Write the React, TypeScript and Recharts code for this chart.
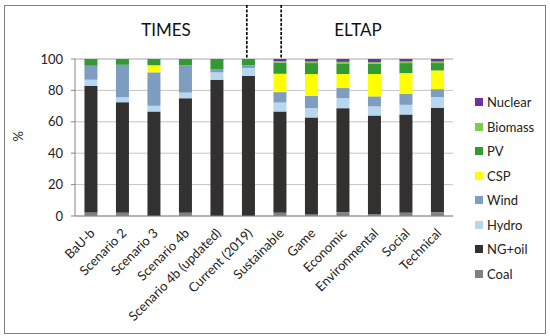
import { BarChart, Bar, XAxis, YAxis, CartesianGrid, Legend, ReferenceLine } from 'recharts';

const categories = [
  'BaU-b', 'Scenario 2', 'Scenario 3', 'Scenario 4b', 'Scenario 4b (updated)', 'Current (2019)',
  'Sustainable', 'Game', 'Economic', 'Environmental', 'Social', 'Technical',
];

const coal = [2.3, 2, 0, 2, 0, 0, 2, 1, 2.5, 1.3, 2, 2.5];
const ngOil = [80.7, 70.5, 66.6, 73, 86.8, 89.4, 64.6, 61.8, 66.2, 62.7, 62.7, 66.5];
const hydro = [3.8, 3.1, 3.6, 3.6, 4.7, 4.9, 5.7, 5.9, 6.4, 5.8, 6.1, 6.7];
const wind = [8.9, 20.7, 21.3, 17.3, 2.1, 1.7, 6.6, 7.9, 6.4, 6.4, 7.1, 5.1];
const csp = [0, 0, 4.5, 0, 0, 0, 11.7, 13.8, 8.9, 14.2, 13.1, 11.9];
const pv = [4.3, 3.7, 4, 4.1, 6.4, 4, 7.1, 7, 6.8, 6.6, 6.4, 4.7];
const biomass = [0, 0, 0, 0, 0, 0, 1, 1, 1, 1, 1, 1];
const nuclear = [0, 0, 0, 0, 0, 0, 1.3, 1.6, 1.8, 2, 1.6, 1.6];

const yTicks = [0, 10, 20, 30, 40, 50, 60, 70, 80, 90, 100];
const boundaryTicks = [0, 1, 2, 3, 4, 5, 6, 7, 8, 9, 10, 11, 12];

const series = [
  { key: 'Coal', values: coal, color: '#808080' },
  { key: 'NG+oil', values: ngOil, color: '#333030' },
  { key: 'Hydro', values: hydro, color: '#b7d6ef' },
  { key: 'Wind', values: wind, color: '#7f9dc0' },
  { key: 'CSP', values: csp, color: '#ffff00' },
  { key: 'PV', values: pv, color: '#339933' },
  { key: 'Biomass', values: biomass, color: '#7ccc4e' },
  { key: 'Nuclear', values: nuclear, color: '#7030a0' },
];

const data = categories.map((name, i) => {
  const row: Record<string, string | number> = { name };
  series.forEach((s) => { row[s.key] = s.values[i]; });
  return row;
});

const font = 'Lato, "Open Sans", sans-serif';

const CategoryTick = ({ x, y, payload }: any) => (
  <g transform={`translate(${x + 5},${y + 10})`}>
    <text textAnchor="end" transform="rotate(-45)" fontSize={13} fill="#222" fontFamily={font}>
      {payload.value}
    </text>
  </g>
);

const LegendContent = () => (
  <div style={{ fontFamily: font, fontSize: 13, color: '#222' }}>
    {[...series].reverse().map((s) => (
      <div key={s.key} style={{ display: 'flex', alignItems: 'center', height: 24.5 }}>
        <span style={{ width: 8, height: 8, background: s.color, marginRight: 4, display: 'inline-block' }} />
        {s.key}
      </div>
    ))}
  </div>
);

const DashedDivider = (props: any) => (
  <line x1={props.x1} y1={5} x2={props.x2} y2={props.y2} stroke="#000" strokeWidth={1.6} strokeDasharray="3 1.5" />
);

export default function App() {
  return (
    <div style={{ position: 'absolute', left: 0, top: 0, width: 550, height: 336, background: '#fff' }}>
      <div style={{ position: 'absolute', left: 4, top: 5, width: 540, height: 327, border: '1.5px solid #7f7f7f' }} />
      <div style={{ position: 'absolute', left: 120, top: 19, width: 92, textAlign: 'center', fontFamily: font, fontSize: 17, color: '#111' }}>TIMES</div>
      <div style={{ position: 'absolute', left: 312, top: 19, width: 92, textAlign: 'center', fontFamily: font, fontSize: 17, color: '#111' }}>ELTAP</div>
      <BarChart
        width={550}
        height={336}
        data={data}
        margin={{ top: 59, right: 97, bottom: 5, left: 20 }}
        barCategoryGap="30%"
        style={{ position: 'absolute', left: 0, top: 0 }}
      >
        <CartesianGrid vertical={false} stroke="#c4c4c4" />
        <XAxis
          xAxisId="num"
          type="number"
          domain={[0, 12]}
          ticks={boundaryTicks}
          height={0}
          axisLine={false}
          tickSize={4}
          tickLine={{ stroke: '#888' }}
          tickFormatter={() => ''}
        />
        <XAxis
          dataKey="name"
          interval={0}
          height={115}
          tickLine={false}
          axisLine={{ stroke: '#888' }}
          tick={<CategoryTick />}
        />
        <YAxis
          width={55}
          domain={[0, 100]}
          ticks={yTicks}
          tickSize={4}
          tickMargin={8}
          axisLine={{ stroke: '#888' }}
          tickLine={{ stroke: '#888' }}
          tick={{ fontSize: 13, fill: '#222', fontFamily: font }}
          label={{ value: '%', angle: -90, position: 'insideLeft', offset: -2, dy: 4, fontSize: 13, fill: '#222', fontFamily: font }}
        />
        {series.map((s) => (
          <Bar key={s.key} dataKey={s.key} stackId="a" fill={s.color} isAnimationActive={false} />
        ))}
        <ReferenceLine xAxisId="num" x={5} shape={<DashedDivider />} />
        <ReferenceLine xAxisId="num" x={6} shape={<DashedDivider />} />
        <Legend
          layout="vertical"
          align="center"
          verticalAlign="middle"
          content={<LegendContent />}
          wrapperStyle={{ left: 475, top: 90, width: 75 }}
        />
      </BarChart>
    </div>
  );
}
